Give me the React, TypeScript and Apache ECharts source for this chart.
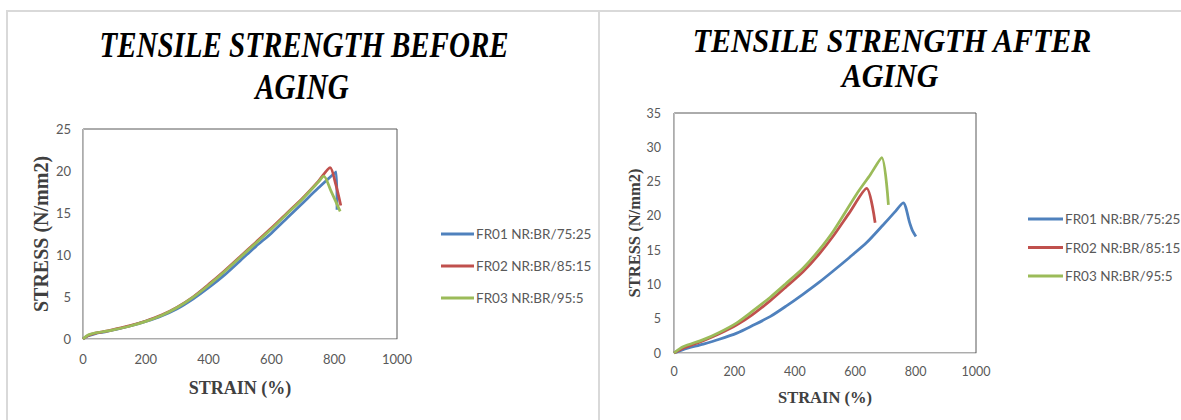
import React, { useEffect, useRef } from "react";
import * as echarts from "echarts";

const seriesNames = ["FR01 NR:BR/75:25", "FR02 NR:BR/85:15", "FR03 NR:BR/95:5"];
const seriesColors = ["#4F81BD", "#C0504D", "#9BBB59"];

const titleBefore = ["TENSILE STRENGTH BEFORE", "AGING"];
const titleAfter = ["TENSILE STRENGTH AFTER", "AGING"];
const xAxisName = "STRAIN (%)";
const yAxisName = "STRESS (N/mm2)";

// Before aging
const beforeStrainFR01 = [0, 15, 40, 70, 100, 150, 200, 250, 300, 350, 400, 450, 500, 550, 600, 650, 700, 750, 806, 809];
const beforeStressFR01 = [0, 0.35, 0.65, 0.85, 1.1, 1.55, 2.1, 2.75, 3.6, 4.75, 6.1, 7.6, 9.3, 11.0, 12.6, 14.4, 16.2, 18.0, 19.9, 15.4];
const beforeStrainFR02 = [0, 15, 40, 70, 100, 150, 200, 250, 300, 350, 400, 450, 500, 550, 600, 650, 700, 750, 787, 805, 821];
const beforeStressFR02 = [0, 0.4, 0.7, 0.9, 1.15, 1.6, 2.15, 2.85, 3.8, 5.0, 6.5, 8.1, 9.8, 11.5, 13.2, 15.0, 16.8, 18.8, 20.4, 18.4, 15.9];
const beforeStrainFR03 = [0, 15, 40, 70, 100, 150, 200, 250, 300, 350, 400, 450, 500, 550, 600, 650, 700, 750, 767, 790, 819];
const beforeStressFR03 = [0, 0.45, 0.72, 0.9, 1.12, 1.55, 2.1, 2.8, 3.75, 4.95, 6.4, 8.0, 9.7, 11.4, 13.1, 14.9, 16.7, 18.7, 19.4, 17.6, 15.2];

// After aging
const afterStrainFR01 = [0, 30, 97, 150, 208, 260, 318, 370, 428, 480, 528, 580, 638, 693, 730, 759, 781, 790, 801];
const afterStressFR01 = [0, 0.5, 1.3, 2.0, 2.9, 4.0, 5.3, 6.8, 8.6, 10.3, 12.0, 13.9, 16.1, 18.7, 20.5, 21.9, 18.9, 17.8, 17.0];
const afterStrainFR02 = [0, 30, 97, 150, 208, 260, 318, 370, 428, 480, 528, 580, 638, 666];
const afterStressFR02 = [0, 0.7, 1.8, 2.8, 4.1, 5.6, 7.6, 9.6, 11.9, 14.4, 17.1, 20.4, 24.0, 19.0];
const afterStrainFR03 = [0, 30, 97, 150, 208, 260, 318, 370, 428, 480, 528, 605, 650, 688, 710];
const afterStressFR03 = [0, 0.9, 1.95, 3.0, 4.4, 6.1, 8.1, 10.1, 12.4, 15.0, 17.8, 23.2, 26.0, 28.5, 21.6];

const pairs = (xs: number[], ys: number[]) => xs.map((x, i) => [x, ys[i]]);

const beforeSets = [
  pairs(beforeStrainFR01, beforeStressFR01),
  pairs(beforeStrainFR02, beforeStressFR02),
  pairs(beforeStrainFR03, beforeStressFR03),
];
const afterSets = [
  pairs(afterStrainFR01, afterStressFR01),
  pairs(afterStrainFR02, afterStressFR02),
  pairs(afterStrainFR03, afterStressFR03),
];

const labelFont = "Lato";
const serifFont = "Liberation Serif";

function makeX(gridIndex: number, fontSize: number, nameSize: number, nameGap: number, margin: number) {
  return {
    type: "value",
    gridIndex,
    min: 0,
    max: 1000,
    interval: 200,
    axisLine: { show: true, onZero: false, lineStyle: { color: "#d9d9d9", width: 1 } },
    axisTick: { show: false },
    splitLine: { show: false },
    axisLabel: { color: "#595959", fontFamily: labelFont, fontSize, margin, formatter: (v: number) => String(v) },
    name: xAxisName,
    nameLocation: "middle",
    nameGap,
    nameTextStyle: { fontFamily: serifFont, fontWeight: "bold", fontSize: nameSize, color: "#404040" },
  };
}

function makeY(gridIndex: number, max: number, fontSize: number, nameSize: number, nameGap: number, margin: number) {
  return {
    type: "value",
    gridIndex,
    min: 0,
    max,
    interval: 5,
    axisLine: { show: true, onZero: false, lineStyle: { color: "#bfbfbf", width: 1 } },
    axisTick: { show: false },
    splitLine: { show: false },
    axisLabel: { color: "#595959", fontFamily: labelFont, fontSize, margin, formatter: (v: number) => String(v) },
    name: yAxisName,
    nameLocation: "middle",
    nameGap,
    nameTextStyle: { fontFamily: serifFont, fontWeight: "bold", fontSize: nameSize, color: "#404040" },
  };
}

function titleText(text: string, x: number, y: number, size: number, sy: number) {
  return {
    type: "text",
    x,
    y,
    scaleY: sy,
    z: 10,
    style: {
      text,
      font: `italic bold ${size}px "${serifFont}"`,
      fill: "#000000",
      align: "center",
      verticalAlign: "middle",
      textAlign: "center",
      textVerticalAlign: "middle",
    },
  };
}

export default function App() {
  const ref = useRef<HTMLDivElement>(null);

  useEffect(() => {
    document.body.style.margin = "0";
    if (!ref.current) return;
    const chart = echarts.init(ref.current, undefined, { renderer: "svg" });

    const series: any[] = [];
    const addSeries = (sets: number[][][], axisIndex: number) => {
      sets.forEach((d, i) => {
        series.push({
          name: seriesNames[i],
          type: "line",
          xAxisIndex: axisIndex,
          yAxisIndex: axisIndex,
          data: d,
          showSymbol: false,
          symbol: "none",
          smooth: 0.25,
          lineStyle: { color: seriesColors[i], width: 2.75 },
          itemStyle: { color: seriesColors[i] },
        });
      });
    };
    addSeries(beforeSets, 0);
    addSeries(afterSets, 1);

    const legendBase = {
      orient: "vertical",
      icon: "rect",
      itemHeight: 3,
      selectedMode: false,
      data: seriesNames,
      textStyle: { fontFamily: labelFont, fontSize: 13.5, color: "#595959", lineHeight: 16, padding: [0, 0, 0, -3] },
    };

    chart.setOption({
      animation: false,
      backgroundColor: "#ffffff",
      grid: [
        { left: 83, top: 129, width: 314, height: 210, show: true, borderColor: "#595959", borderWidth: 1 },
        { left: 674, top: 113, width: 302, height: 240, show: true, borderColor: "#595959", borderWidth: 1 },
      ],
      xAxis: [makeX(0, 13, 18, 40, 13), makeX(1, 12.5, 16.5, 36, 12)],
      yAxis: [makeY(0, 25, 13, 20, 32, 12), makeY(1, 35, 12.5, 16.5, 30, 13)],
      legend: [
        { ...legendBase, left: 436, top: 221, itemWidth: 33, itemGap: 16 },
        { ...legendBase, left: 1023, top: 206, itemWidth: 35, itemGap: 12.5 },
      ],
      graphic: [
        { type: "rect", z: -10, shape: { x: 7, y: 11, width: 592, height: 430 }, style: { fill: "none", stroke: "#d9d9d9", lineWidth: 2 } },
        { type: "rect", z: -10, shape: { x: 599, y: 11, width: 600, height: 430 }, style: { fill: "none", stroke: "#d9d9d9", lineWidth: 2 } },
        titleText(titleBefore[0], 304, 45, 29, 1.2),
        titleText(titleBefore[1], 302, 87, 29, 1.2),
        titleText(titleAfter[0], 892, 41, 30, 1.1),
        titleText(titleAfter[1], 890, 76, 30, 1.1),
      ],
      series,
    });

    return () => {
      chart.dispose();
    };
  }, []);

  return <div ref={ref} style={{ width: 1181, height: 420 }} />;
}
